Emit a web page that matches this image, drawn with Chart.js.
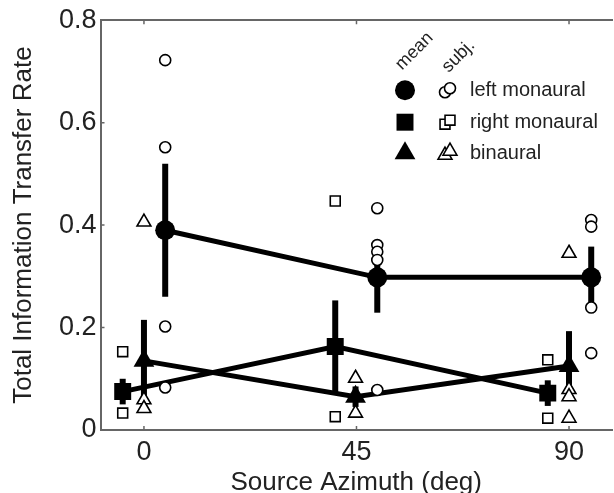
<!DOCTYPE html>
<html>
<head>
<meta charset="utf-8">
<script src="https://cdn.jsdelivr.net/npm/chart.js@4.4.0/dist/chart.umd.min.js"></script>
<style>
html, body { margin: 0; padding: 0; background: #fff; overflow: hidden; width: 614px; height: 493px; }
#wrap { width: 624px; height: 500px; position: relative; }
</style>
</head>
<body>
<div id="wrap"><canvas id="grafico"></canvas></div>
<script>
// valores
const xTicks = [0, 45, 90];
const yTicks = [0, 0.2, 0.4, 0.6, 0.8];
const etiquetas = ['left monaural', 'right monaural', 'binaural'];

// medias (cada serie desplazada un poco en x como en el original)
const leftX = [4.5, 49.4, 94.7];
const leftMean = [0.390, 0.298, 0.298];
const leftErr = [0.130, 0.069, 0.060];

const rightX = [-4.5, 40.5, 85.5];
const rightMean = [0.075, 0.163, 0.072];
const rightErr = [0.025, 0.090, 0.025];

const binX = [0, 44.8, 90];
const binMean = [0.135, 0.065, 0.125];
const binErr = [0.080, 0.020, 0.068];

// sujetos individuales
const leftSubjX = [4.5, 4.5, 4.5, 4.5, 49.4, 49.4, 49.4, 49.4, 49.4, 94.7, 94.7, 94.7, 94.7];
const leftSubjY = [0.722, 0.552, 0.202, 0.083, 0.433, 0.361, 0.348, 0.332, 0.078, 0.410, 0.397, 0.239, 0.150];

const rightSubjX = [-4.5, -4.5, 40.5, 40.5, 85.5, 85.5];
const rightSubjY = [0.153, 0.033, 0.447, 0.026, 0.137, 0.023];

const binSubjX = [0, 0, 0, 44.8, 44.8, 90, 90, 90, 90];
const binSubjY = [0.406, 0.059, 0.042, 0.101, 0.033, 0.345, 0.079, 0.065, 0.023];

const FUENTE = '"Liberation Sans", Arial, Helvetica, sans-serif';
const estilos = ['circle', 'rect', 'triangle'];
const radioMedia = [10, 12, 12];
const radioSujeto = [5.5, 7, 8];

function pares(xs, ys) {
    return xs.map((x, i) => ({ x: x, y: ys[i] }));
}

const medias = [pares(leftX, leftMean), pares(rightX, rightMean), pares(binX, binMean)];
const errores = [leftErr, rightErr, binErr];
const sujetos = [pares(leftSubjX, leftSubjY), pares(rightSubjX, rightSubjY), pares(binSubjX, binSubjY)];

const datasets = [];
medias.forEach((d, i) => {
    datasets.push({ data: d, showLine: true, borderColor: '#000', borderWidth: 5, pointRadius: 0, order: 3 });
});
sujetos.forEach((d, i) => {
    datasets.push({
        data: d, showLine: false, pointStyle: estilos[i], pointRadius: radioSujeto[i],
        backgroundColor: '#fff', borderColor: '#000', pointBorderWidth: 1.6, order: 2
    });
});
medias.forEach((d, i) => {
    datasets.push({
        data: d, showLine: false, pointStyle: estilos[i], pointRadius: radioMedia[i],
        backgroundColor: '#000', borderColor: '#000', pointBorderWidth: 0, order: 1, err: errores[i]
    });
});

// barras de error con las escalas del grafico
const barrasError = {
    id: 'barrasError',
    beforeDatasetsDraw(chart) {
        const ctx = chart.ctx, sx = chart.scales.x, sy = chart.scales.y;
        ctx.save();
        ctx.strokeStyle = '#000';
        ctx.lineWidth = 6;
        ctx.lineCap = 'butt';
        chart.data.datasets.forEach(ds => {
            if (!ds.err) return;
            ds.data.forEach((p, i) => {
                const px = sx.getPixelForValue(p.x);
                ctx.beginPath();
                ctx.moveTo(px, sy.getPixelForValue(p.y - ds.err[i]));
                ctx.lineTo(px, sy.getPixelForValue(p.y + ds.err[i]));
                ctx.stroke();
            });
        });
        ctx.restore();
    }
};

// marcas hacia dentro en los ejes
const marcas = {
    id: 'marcas',
    beforeDatasetsDraw(chart) {
        const ctx = chart.ctx, a = chart.chartArea;
        ctx.save();
        ctx.strokeStyle = '#666';
        ctx.lineWidth = 1.5;
        ctx.beginPath();
        chart.scales.x.ticks.forEach(t => {
            const px = chart.scales.x.getPixelForValue(t.value);
            ctx.moveTo(px, a.bottom); ctx.lineTo(px, a.bottom - 4);
            ctx.moveTo(px, a.top); ctx.lineTo(px, a.top + 4);
        });
        chart.scales.y.ticks.forEach(t => {
            const py = chart.scales.y.getPixelForValue(t.value);
            ctx.moveTo(a.left, py); ctx.lineTo(a.left + 4, py);
        });
        ctx.stroke();
        ctx.restore();
    }
};

// leyenda con columnas "mean" y "subj."
const leyenda = {
    id: 'leyenda',
    afterDraw(chart) {
        const ctx = chart.ctx, a = chart.chartArea;
        const xMedia = a.left + 304.5, xSuj = a.left + 346.5, xTxt = a.left + 369.5;
        const filas = [a.top + 70, a.top + 102, a.top + 133];
        ctx.save();
        ctx.fillStyle = '#222';
        ctx.font = '18px ' + FUENTE;
        ctx.textAlign = 'center';
        ctx.textBaseline = 'middle';
        [['mean', a.left + 314, a.top + 31], ['subj.', a.left + 358, a.top + 36]].forEach(([t, x, y]) => {
            ctx.save();
            ctx.translate(x, y);
            ctx.rotate(-Math.PI / 4);
            ctx.fillText(t, 0, 0);
            ctx.restore();
        });
        etiquetas.forEach((txt, i) => {
            const y = filas[i];
            ctx.fillStyle = '#000';
            ctx.strokeStyle = '#000';
            Chart.helpers.drawPoint(ctx, { pointStyle: estilos[i], radius: radioMedia[i], borderWidth: 0, rotation: 0 }, xMedia, y);
            ctx.fillStyle = '#fff';
            ctx.lineWidth = 1.6;
            Chart.helpers.drawPoint(ctx, { pointStyle: estilos[i], radius: radioSujeto[i], borderWidth: 1.6, rotation: 0 }, xSuj - 2, y + 2);
            Chart.helpers.drawPoint(ctx, { pointStyle: estilos[i], radius: radioSujeto[i], borderWidth: 1.6, rotation: 0 }, xSuj + 3, y - 2);
            ctx.fillStyle = '#222';
            ctx.font = '20px ' + FUENTE;
            ctx.textAlign = 'left';
            ctx.fillText(txt, xTxt, y);
        });
        ctx.restore();
    }
};

new Chart(document.getElementById('grafico').getContext('2d'), {
    type: 'scatter',
    data: { datasets: datasets },
    options: {
        responsive: true,
        maintainAspectRatio: false,
        animation: false,
        layout: { padding: { left: 8, top: 0, right: 0, bottom: 0 } },
        plugins: { legend: { display: false }, tooltip: { enabled: false } },
        scales: {
            x: {
                type: 'linear', position: 'bottom', min: -9.2, max: 99.1,
                afterBuildTicks: s => { s.ticks = xTicks.map(v => ({ value: v })); },
                afterFit: s => { s.height = 70; },
                grid: { display: false, drawTicks: false },
                border: { display: true, color: '#666', width: 2 },
                ticks: { padding: 6, color: '#222', font: { family: FUENTE, size: 27 } },
                title: { display: true, text: 'Source Azimuth (deg)', color: '#222', padding: { top: 0, bottom: 2 }, font: { family: FUENTE, size: 26 } }
            },
            x2: {
                type: 'linear', position: 'top', min: -9.2, max: 99.1,
                afterFit: s => { s.height = 20; },
                grid: { display: false, drawTicks: false },
                border: { display: true, color: '#666', width: 2 },
                ticks: { display: false }
            },
            y: {
                type: 'linear', min: 0, max: 0.8,
                afterBuildTicks: s => { s.ticks = yTicks.map(v => ({ value: v })); },
                afterFit: s => { s.width = 92.5; },
                grid: { display: false, drawTicks: false },
                border: { display: true, color: '#666', width: 2 },
                ticks: { padding: 4, color: '#222', font: { family: FUENTE, size: 27 } },
                title: { display: true, text: 'Total Information Transfer Rate', color: '#222', padding: 0, font: { family: FUENTE, size: 26 } }
            }
        }
    },
    plugins: [barrasError, marcas, leyenda]
});
</script>
</body>
</html>
